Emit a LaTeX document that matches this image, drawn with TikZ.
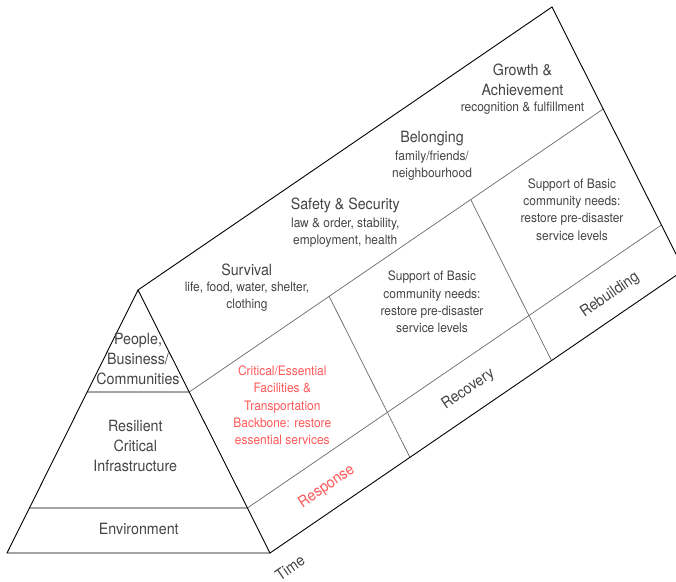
\documentclass[tikz,border=0pt]{standalone}
\usepackage{fontspec}
\setmainfont{TeX Gyre Heros}[FakeStretch=0.92]
\usetikzlibrary{calc}
\definecolor{txt}{RGB}{68,68,68}
\definecolor{redtxt}{RGB}{255,88,88}
\definecolor{divline}{RGB}{105,105,105}
\definecolor{triline}{RGB}{165,165,165}
\begin{document}
\begin{tikzpicture}[x=1pt,y=-1pt,
  outer/.style={draw=black,line width=0.9pt,line join=miter},
  inner/.style={draw=divline,line width=0.7pt},
  tri/.style={draw=triline,line width=1.8pt},
  big/.style={font=\fontsize{15.5}{19.8}\selectfont,text=txt,align=center,inner sep=0pt},
  small/.style={font=\fontsize{13}{17.3}\selectfont,text=txt,align=center,inner sep=0pt},
  redsmall/.style={small,text=redtxt},
  phase/.style={big,rotate=34.4},
]
\useasboundingbox (0,0) rectangle (676,581);
\clip (0,0) rectangle (676,581);
% geometry
\coordinate (A) at (138,290);
\coordinate (BL) at (7,553);
\coordinate (BR) at (270,553);
\coordinate (A2) at (552,7);
\coordinate (BR2) at (684,270);
\coordinate (L1) at (87.2,392);
\coordinate (P1) at (189.2,392);
\coordinate (L2) at (29.4,508);
\coordinate (P2) at (247.4,508);
\coordinate (P1b) at (603.2,109);
\coordinate (P2b) at (661.4,225);
\coordinate (C1t) at ($(P1)!0.338!(P1b)$);
\coordinate (C1b) at ($(BR)!0.338!(BR2)$);
\coordinate (C2t) at ($(P1)!0.68!(P1b)$);
\coordinate (C2b) at ($(BR)!0.68!(BR2)$);
% prism dividers
\draw[inner] (P1) -- (P1b);
\draw[inner] (P2) -- (P2b);
\draw[inner] (C1t) -- (C1b);
\draw[inner] (C2t) -- (C2b);
% triangle levels
\draw[tri] (L1) -- (P1);
\draw[tri] (L2) -- (P2);
% outline
\draw[outer] (A) -- (A2) -- (BR2) -- (BR) -- cycle;
\draw[outer] (A) -- (BL) -- (BR);
% texts
\node[big] (g1) at (522.5,80) {Growth \&\\Achievement};
\node[small] (g2) at (522.5,108.5) {recognition \& fulfillment};
\node[big] (b1) at (432,138.3) {Belonging};
\node[small] (b2) at (432,165.5) {family/friends/\\neighbourhood};
\node[big] (s1) at (345.3,205) {Safety \& Security};
\node[small] (s2) at (345.3,233) {law \& order, stability,\\employment, health};
\node[big] (v1) at (246.7,270) {Survival};
\node[small] (v2) at (247,297) {life, food, water, shelter,\\clothing};
\node[small] (sup1) at (432,302) {Support of Basic\\community needs:\\restore pre-disaster\\service levels};
\node[small] (sup2) at (572,209.5) {Support of Basic\\community needs:\\restore pre-disaster\\service levels};
\node[redsmall] (crit) at (282.3,405.5) {Critical/Essential\\Facilities \&\\Transportation\\Backbone: restore\\essential services};
\node[big] (people) at (138,359) {People,\\Business/\\Communities};
\node[big] (resil) at (135.3,446) {Resilient\\Critical\\Infrastructure};
\node[big] (env) at (138.8,529.3) {Environment};
\node[phase,text=redtxt] (resp) at (326.7,486.7) {Response};
\node[phase] (reco) at (468.3,389.3) {Recovery};
\node[phase] (rebu) at (610,295) {Rebuilding};
\node[phase] (time) at (290,567.5) {Time};
\end{tikzpicture}
\end{document}
